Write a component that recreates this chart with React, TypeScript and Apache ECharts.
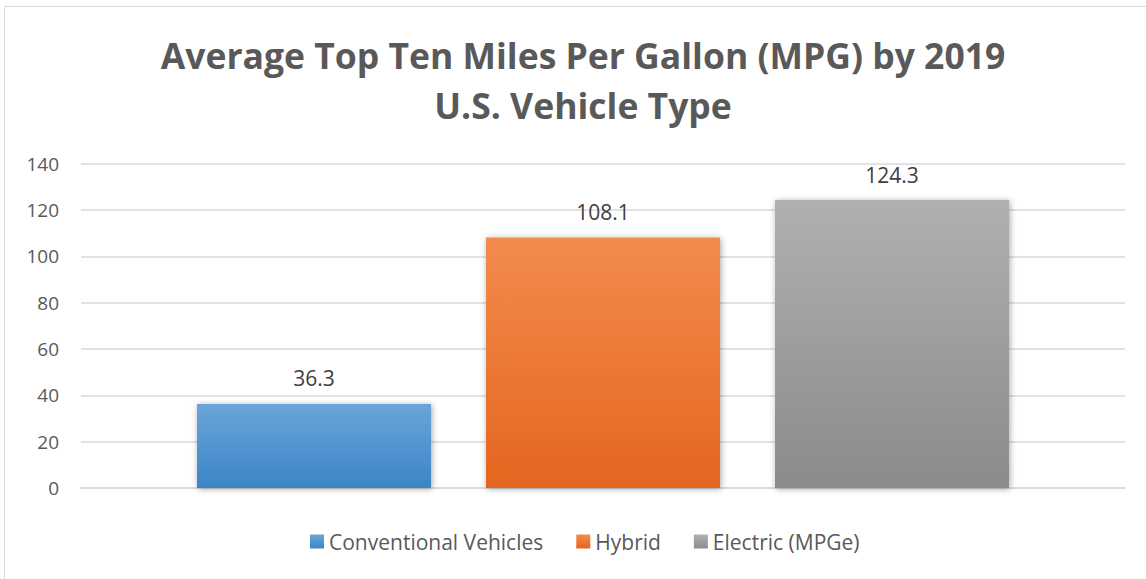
import React, { useEffect, useRef } from "react";
import * as echarts from "echarts";

const titleLines = ["Average Top Ten Miles Per Gallon (MPG) by 2019", "U.S. Vehicle Type"];
const categories = [""];
const seriesNames = ["Conventional Vehicles", "Hybrid", "Electric (MPGe)"];
const seriesValues = [36.3, 108.1, 124.3];
const gradientTops = ["#6BA4D9", "#F38B4D", "#B0B0B0"];
const gradientBottoms = ["#3A86C6", "#E4661F", "#8B8B8B"];
const yTicks = { min: 0, max: 140, interval: 20 };

export default function App() {
  const ref = useRef<HTMLDivElement>(null);
  useEffect(() => {
    document.body.style.margin = "0";
    const chart = echarts.init(ref.current!, undefined, { renderer: "svg" });
    const font = "Open Sans";
    chart.setOption({
      animation: false,
      backgroundColor: "#ffffff",
      textStyle: { fontFamily: font },
      graphic: [
        {
          type: "line",
          shape: { x1: 4.5, y1: 6.5, x2: 1146, y2: 6.5 },
          style: { stroke: "#D9D9D9", lineWidth: 1 },
          silent: true,
        },
        {
          type: "line",
          shape: { x1: 4.5, y1: 6.5, x2: 4.5, y2: 579 },
          style: { stroke: "#D9D9D9", lineWidth: 1 },
          silent: true,
        },
      ],
      title: {
        text: titleLines.join("\n"),
        left: 578,
        textAlign: "center",
        top: 25,
        textStyle: {
          fontFamily: font,
          fontWeight: "bold",
          fontSize: 35.5,
          lineHeight: 50,
          color: "#595959",
        },
      },
      legend: {
        bottom: 22,
        left: 305,
        itemWidth: 14,
        itemHeight: 14,
        itemGap: 33,
        icon: "rect",
        textStyle: { fontFamily: font, fontSize: 21, color: "#595959" },
        data: seriesNames,
      },
      grid: { left: 81, right: 21, top: 163.7, bottom: 91, containLabel: false },
      xAxis: {
        type: "category",
        data: categories,
        axisLine: { lineStyle: { color: "#D9D9D9", width: 1.5 } },
        axisTick: { show: false },
        axisLabel: { show: false },
      },
      yAxis: {
        type: "value",
        min: yTicks.min,
        max: yTicks.max,
        interval: yTicks.interval,
        axisLine: { show: false },
        axisTick: { show: false },
        axisLabel: { fontFamily: font, fontSize: 19, color: "#595959", margin: 22 },
        splitLine: { lineStyle: { color: "#D9D9D9", width: 1.5 } },
      },
      series: seriesNames.map((name, i) => ({
        name,
        type: "bar",
        barWidth: 234,
        barGap: "23.5%",
        data: [seriesValues[i]],
        itemStyle: {
          color: new echarts.graphic.LinearGradient(0, 0, 0, 1, [
            { offset: 0, color: gradientTops[i] },
            { offset: 1, color: gradientBottoms[i] },
          ]),
          shadowBlur: 6,
          shadowColor: "rgba(0,0,0,0.35)",
          shadowOffsetX: 1,
          shadowOffsetY: 1,
        },
        label: {
          show: true,
          position: "top",
          distance: 15,
          fontFamily: font,
          fontSize: 21,
          color: "#404040",
        },
      })),
    });
    return () => chart.dispose();
  }, []);
  return <div ref={ref} style={{ width: 1146, height: 579 }} />;
}
